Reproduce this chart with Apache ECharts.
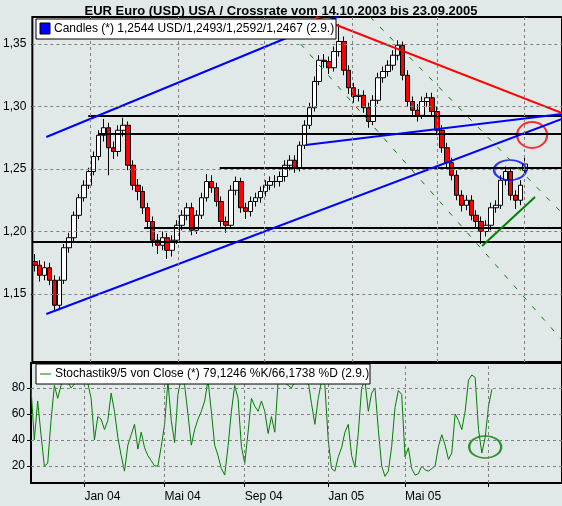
<!DOCTYPE html>
<html><head><meta charset="utf-8">
<script src="https://cdn.jsdelivr.net/npm/echarts@6/dist/echarts.min.js"></script>
<style>html,body{margin:0;padding:0;background:#e0e8e8}#c{width:562px;height:506px}</style>
</head><body><div id="c"></div>
<script>
const opens=[1.176,1.173,1.165,1.171,1.161,1.141,1.161,1.187,1.195,1.213,1.227,1.237,1.248,1.260,1.277,1.283,1.267,1.264,1.281,1.285,1.253,1.237,1.232,1.219,1.208,1.193,1.189,1.195,1.185,1.193,1.205,1.213,1.219,1.201,1.213,1.227,1.240,1.235,1.224,1.208,1.205,1.233,1.240,1.219,1.216,1.224,1.227,1.232,1.237,1.240,1.240,1.244,1.253,1.257,1.251,1.269,1.285,1.299,1.320,1.337,1.336,1.331,1.344,1.352,1.329,1.315,1.308,1.309,1.299,1.288,1.305,1.323,1.328,1.333,1.341,1.349,1.325,1.304,1.297,1.293,1.304,1.307,1.296,1.281,1.267,1.255,1.245,1.229,1.221,1.225,1.213,1.208,1.200,1.205,1.219,1.221,1.241,1.248,1.229,1.225,1.249];
const closes=[1.173,1.165,1.171,1.161,1.141,1.161,1.187,1.195,1.213,1.227,1.237,1.248,1.260,1.277,1.283,1.267,1.264,1.281,1.285,1.253,1.237,1.232,1.219,1.208,1.193,1.189,1.195,1.185,1.193,1.205,1.213,1.219,1.201,1.213,1.227,1.240,1.235,1.224,1.208,1.205,1.233,1.240,1.219,1.216,1.224,1.227,1.232,1.237,1.240,1.240,1.244,1.253,1.257,1.251,1.269,1.285,1.299,1.320,1.337,1.336,1.331,1.344,1.352,1.329,1.315,1.308,1.309,1.299,1.288,1.305,1.323,1.328,1.333,1.341,1.349,1.325,1.304,1.297,1.293,1.304,1.307,1.296,1.281,1.267,1.255,1.245,1.229,1.221,1.225,1.213,1.208,1.200,1.205,1.219,1.221,1.241,1.248,1.229,1.225,1.237,1.254];
const highs=[1.182,1.177,1.176,1.175,1.165,1.164,1.190,1.199,1.216,1.230,1.241,1.251,1.264,1.281,1.290,1.287,1.272,1.285,1.291,1.288,1.257,1.242,1.236,1.223,1.212,1.198,1.200,1.199,1.197,1.209,1.217,1.223,1.223,1.217,1.231,1.246,1.245,1.239,1.228,1.212,1.237,1.244,1.243,1.223,1.228,1.231,1.236,1.241,1.244,1.245,1.248,1.257,1.261,1.261,1.272,1.289,1.303,1.324,1.341,1.342,1.340,1.348,1.366,1.356,1.333,1.319,1.314,1.313,1.303,1.309,1.327,1.332,1.337,1.345,1.353,1.352,1.329,1.308,1.302,1.308,1.311,1.311,1.300,1.285,1.271,1.259,1.249,1.233,1.229,1.229,1.217,1.212,1.209,1.223,1.225,1.245,1.252,1.251,1.233,1.241,1.259];
const lows=[1.168,1.160,1.161,1.157,1.136,1.137,1.158,1.183,1.192,1.210,1.224,1.234,1.245,1.257,1.272,1.245,1.258,1.260,1.276,1.249,1.233,1.225,1.214,1.203,1.188,1.182,1.185,1.178,1.180,1.190,1.201,1.209,1.197,1.198,1.210,1.224,1.231,1.220,1.204,1.199,1.202,1.229,1.215,1.210,1.212,1.220,1.223,1.228,1.233,1.235,1.236,1.240,1.249,1.247,1.248,1.266,1.282,1.296,1.317,1.331,1.326,1.328,1.340,1.325,1.310,1.303,1.304,1.295,1.283,1.285,1.302,1.319,1.324,1.329,1.337,1.321,1.300,1.292,1.288,1.290,1.300,1.292,1.277,1.263,1.251,1.241,1.225,1.216,1.217,1.209,1.203,1.190,1.196,1.201,1.215,1.218,1.237,1.225,1.218,1.221,1.247];
const stoch=[80,40,70,44,20,22,55,82,72,82,90,85,80,83,87,90,88,84,72,40,58,56,48,55,76,62,42,28,16,36,44,52,33,46,34,28,24,20,20,35,52,85,55,38,75,88,82,60,36,48,56,62,70,86,62,36,28,18,13,35,62,82,72,35,22,46,72,66,62,70,62,45,58,46,85,88,84,82,80,85,88,90,88,85,68,52,72,85,82,40,18,16,27,34,46,52,28,19,45,80,86,62,76,80,48,20,12,16,35,65,78,75,27,34,18,13,14,20,17,16,18,20,35,44,36,25,30,60,55,48,62,86,90,88,48,30,42,66,79];
const yTicks=[1.15,1.20,1.25,1.30,1.35];
const sTicks=[20,40,60,80];
const dateLabels=['Jan 04','Mai 04','Sep 04','Jan 05','Mai 05',''];
const upperGridIdx=[11.3,29.2,46.7,64.8,82.1,99.8];
const lowerGridIdx=[16,40,64,89,112,137];
const hLines=[[10.9,1.2924],[13.1,1.278],[37.7,1.2508],[22.3,1.2028],[-0.5,1.1916]];
const blueLines=[[[2.35,1.2756],[61.7,1.3716]],[[2.35,1.134],[107.5,1.29]],[[55.2,1.2692],[107.5,1.294]]];
const redLine=[[57.3,1.3716],[107.5,1.2948]];
const greenDashed=[[[68.4,1.3716],[107.5,1.2148]],[[54.2,1.35],[107.5,1.1132]]];
const greenSolid=[[91.2,1.1884],[102.0,1.2276]];

const N=108, M=160;
const cats=Array.from({length:N},(_,i)=>i);
const scats=Array.from({length:M},(_,i)=>i);
const candle=opens.map((o,i)=>[o,closes[i],lows[i],highs[i]]);
const font='"Liberation Sans", Arial, sans-serif';
const series=[];
series.push({type:'candlestick',xAxisIndex:0,yAxisIndex:0,data:candle,barWidth:5,
  itemStyle:{color:'#ffffff',color0:'#ff0000',borderColor:'#000',borderColor0:'#000',borderWidth:1},
  markLine:{silent:true,symbol:'none',label:{show:false},lineStyle:{color:'#808080',type:[3,3],width:1},
    data:yTicks.map(v=>({yAxis:v}))}});
series.push({type:'line',xAxisIndex:1,yAxisIndex:0,data:[],
  markLine:{silent:true,symbol:'none',label:{show:false},lineStyle:{color:'#808080',type:[3,3],width:1},
    data:upperGridIdx.map(v=>({xAxis:v}))}});
hLines.forEach(h=>series.push({type:'line',xAxisIndex:1,yAxisIndex:0,data:[[h[0],h[1]],[107.5,h[1]]],symbol:'none',lineStyle:{color:'#000',width:2}}));
blueLines.forEach(l=>series.push({type:'line',xAxisIndex:1,yAxisIndex:0,data:l,symbol:'none',lineStyle:{color:'#0000ff',width:2}}));
series.push({type:'line',xAxisIndex:1,yAxisIndex:0,data:redLine,symbol:'none',lineStyle:{color:'#ff0000',width:2}});
greenDashed.forEach(l=>series.push({type:'line',xAxisIndex:1,yAxisIndex:0,data:l,symbol:'none',lineStyle:{color:'#008000',width:1,type:[5,9]}}));
series.push({type:'line',xAxisIndex:1,yAxisIndex:0,data:greenSolid,symbol:'none',lineStyle:{color:'#008000',width:2}});
series.push({type:'scatter',xAxisIndex:1,yAxisIndex:0,data:[[101.4,1.2772]],symbol:'circle',symbolSize:[30,26],itemStyle:{color:'rgba(0,0,0,0)',borderColor:'#ff0000',borderWidth:2}});
series.push({type:'scatter',xAxisIndex:1,yAxisIndex:0,data:[[96.9,1.2492]],symbol:'circle',symbolSize:[32,20],itemStyle:{color:'rgba(0,0,0,0)',borderColor:'#0000ff',borderWidth:2}});
series.push({type:'line',xAxisIndex:2,yAxisIndex:1,data:stoch,symbol:'none',lineStyle:{color:'#008000',width:1},
  markLine:{silent:true,symbol:'none',label:{show:false},lineStyle:{color:'#808080',type:[3,3],width:1},
    data:sTicks.map(v=>({yAxis:v})).concat(lowerGridIdx.map(v=>({xAxis:v})))}});
series.push({type:'scatter',xAxisIndex:2,yAxisIndex:1,data:[[136,34.6]],symbol:'circle',symbolSize:[32,22],itemStyle:{color:'rgba(0,0,0,0)',borderColor:'#008000',borderWidth:2}});

const chart=echarts.init(document.getElementById('c'));
chart.setOption({
  backgroundColor:'#e0e8e8',animation:false,
  title:{text:'EUR Euro (USD) USA / Crossrate vom 14.10.2003 bis 23.09.2005',left:'center',top:0,
    textStyle:{fontFamily:font,fontSize:13,fontWeight:'bold',color:'#000'}},
  grid:[{left:31,right:0,top:17,height:345,show:true,backgroundColor:'#e0e8e8',borderColor:'#000',borderWidth:2},
        {left:31,right:0,top:363,height:120,show:true,backgroundColor:'#e0e8e8',borderColor:'#000',borderWidth:2}],
  xAxis:[{type:'category',gridIndex:0,data:cats,boundaryGap:true,axisLine:{show:false},axisTick:{show:false},axisLabel:{show:false},splitLine:{show:false}},
         {type:'value',gridIndex:0,min:-0.5,max:107.5,show:false,splitLine:{show:false}},
         {type:'category',gridIndex:1,data:scats,boundaryGap:false,axisLine:{show:false},
          axisTick:{show:true,interval:(i)=>lowerGridIdx.includes(i),length:4,lineStyle:{color:'#000'}},
          axisLabel:{interval:(i)=>lowerGridIdx.includes(i),align:'left',margin:8,fontFamily:font,fontSize:12,color:'#000',
            formatter:(v)=>{const k=lowerGridIdx.indexOf(Number(v));return k>=0?dateLabels[k]:'';}},splitLine:{show:false}}],
  yAxis:[{type:'value',gridIndex:0,min:1.0956,max:1.3716,axisLine:{show:false},
          axisTick:{show:true,customValues:yTicks,length:4,lineStyle:{color:'#000'}},
          axisLabel:{customValues:yTicks,fontFamily:font,fontSize:12,color:'#000',margin:6,formatter:(v)=>v.toFixed(2).replace('.',',')},splitLine:{show:false}},
         {type:'value',gridIndex:1,min:6.9,max:99.2,axisLine:{show:false},
          axisTick:{show:true,customValues:sTicks,length:4,lineStyle:{color:'#000'}},
          axisLabel:{customValues:sTicks,fontFamily:font,fontSize:12,color:'#000',margin:6},splitLine:{show:false}}],
  graphic:[
    {type:'rect',shape:{x:36,y:19,width:300,height:20},style:{fill:'#fff',stroke:'#000',lineWidth:1},z:100},
    {type:'rect',shape:{x:40,y:23,width:10,height:11},style:{fill:'#0000ff',stroke:'#000',lineWidth:1},z:101},
    {type:'text',x:54,y:29,style:{text:'Candles (*) 1,2544 USD/1,2493/1,2592/1,2467 (2.9.)',font:'12px '+font,fill:'#000',textVerticalAlign:'middle'},z:101},
    {type:'rect',shape:{x:36,y:364,width:334,height:20},style:{fill:'#fff',stroke:'#000',lineWidth:1},z:100},
    {type:'line',shape:{x1:40,y1:374,x2:51,y2:374},style:{stroke:'#008000',lineWidth:1},z:101},
    {type:'text',x:55,y:374,style:{text:'Stochastik9/5 von Close (*) 79,1246 %K/66,1738 %D (2.9.)',font:'12px '+font,fill:'#000',textVerticalAlign:'middle'},z:101}
  ],
  series:series
});
</script></body></html>
